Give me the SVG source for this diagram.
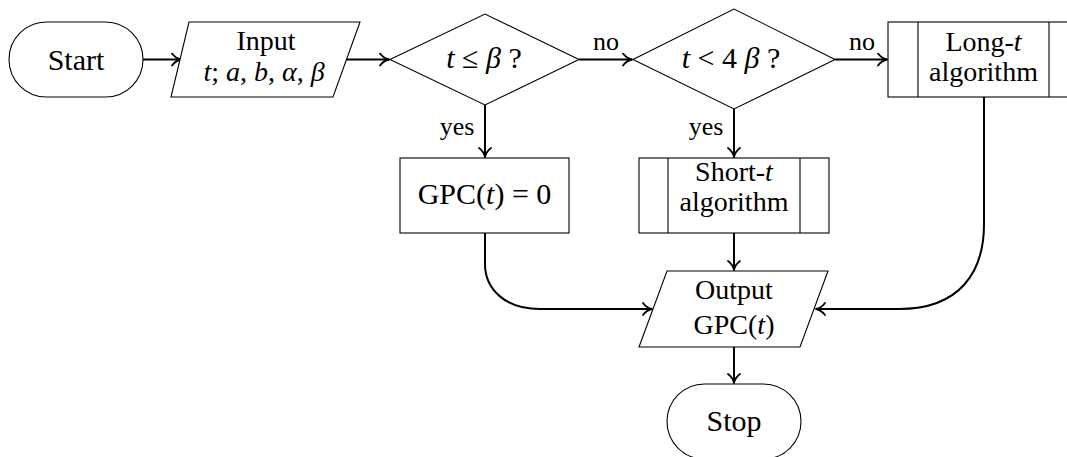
<svg xmlns="http://www.w3.org/2000/svg" width="1067" height="457" viewBox="0 0 1067 457">
<defs>
<style>
.n{fill:#fff;stroke:#000;stroke-width:1.1}
.c{fill:none;stroke:#000;stroke-width:2}
text{font-family:'Liberation Serif','DejaVu Serif',serif;font-size:28px;fill:#000;text-anchor:middle}
.s{font-size:30px}
.i{font-style:italic}
.lbl{font-size:26px}
</style>
<marker id="ah" viewBox="-11 -7 13 14" refX="0" refY="0" markerWidth="13" markerHeight="14" markerUnits="userSpaceOnUse" orient="auto">
<path d="M-9,-6 C-6.5,-2.7 -3.2,-0.7 0,0 C-3.2,0.7 -6.5,2.7 -9,6" fill="none" stroke="#000" stroke-width="1.8" stroke-linecap="round" stroke-linejoin="round"/>
</marker>
</defs>
<g id="connectors">
<path class="c" d="M143,59.5 L181,59.5" marker-end="url(#ah)"/>
<path class="c" d="M346.5,59.5 L389,59.5" marker-end="url(#ah)"/>
<path class="c" d="M579,59.5 L632,59.5" marker-end="url(#ah)"/>
<path class="c" d="M835,59.5 L887,59.5" marker-end="url(#ah)"/>
<path class="c" d="M485,105 L485,157" marker-end="url(#ah)"/>
<path class="c" d="M734,109 L734,157" marker-end="url(#ah)"/>
<path class="c" d="M734,233 L734,270" marker-end="url(#ah)"/>
<path class="c" d="M485,233 L485,264 C485,289 505,309 540,309 L652,309" marker-end="url(#ah)"/>
<path class="c" d="M984,97 L984,224 C984,272 960,309 899,309 L816,309" marker-end="url(#ah)"/>
<path class="c" d="M734,347 L734,383" marker-end="url(#ah)"/>
<text class="lbl" x="606" y="50">no</text>
<text class="lbl" x="862" y="50">no</text>
<text class="lbl" x="457" y="135">yes</text>
<text class="lbl" x="706" y="135">yes</text>
</g>
<g id="start">
<rect class="n" x="9" y="22" width="134" height="75" rx="37.5" ry="37.5"/>
<text class="s" x="76" y="70">Start</text>
</g>
<g id="input">
<polygon class="n" points="189,22 360,22 333,97 171,97"/>
<text x="266" y="50">Input</text>
<text x="264" y="81"><tspan class="i">t</tspan>; <tspan class="i">a</tspan>, <tspan class="i">b</tspan>, <tspan class="i">α</tspan>, <tspan class="i">β</tspan></text>
</g>
<g id="dec1">
<polygon class="n" points="390,59.5 485,14 579,59.5 485,105"/>
<text class="s" x="484" y="68"><tspan class="i">t</tspan> ≤ <tspan class="i">β</tspan>  ?</text>
</g>
<g id="dec2">
<polygon class="n" points="633,59.5 734,9 835,59.5 734,109"/>
<text class="s" x="731" y="68"><tspan class="i">t</tspan> &lt; 4 <tspan class="i">β</tspan>  ?</text>
</g>
<g id="long">
<rect class="n" x="888" y="22" width="191" height="75"/>
<line class="n" x1="918" y1="22" x2="918" y2="97"/>
<line class="n" x1="1049" y1="22" x2="1049" y2="97"/>
<text x="983.5" y="51">Long-<tspan class="i">t</tspan></text>
<text x="983.5" y="81">algorithm</text>
</g>
<g id="zero">
<rect class="n" x="400" y="158" width="169" height="75"/>
<text class="s" x="484.5" y="204">GPC(<tspan class="i">t</tspan>) = 0</text>
</g>
<g id="short">
<rect class="n" x="639" y="158" width="190" height="75"/>
<line class="n" x1="668" y1="158" x2="668" y2="233"/>
<line class="n" x1="800" y1="158" x2="800" y2="233"/>
<text x="734" y="181">Short-<tspan class="i">t</tspan></text>
<text x="734" y="211">algorithm</text>
</g>
<g id="output">
<polygon class="n" points="667,271 828,271 800,347 639,347"/>
<text x="734" y="299">Output</text>
<text x="734" y="334">GPC(<tspan class="i">t</tspan>)</text>
</g>
<g id="stop">
<rect class="n" x="667" y="384" width="134" height="75" rx="37.5" ry="37.5"/>
<text class="s" x="734" y="431">Stop</text>
</g>
</svg>
